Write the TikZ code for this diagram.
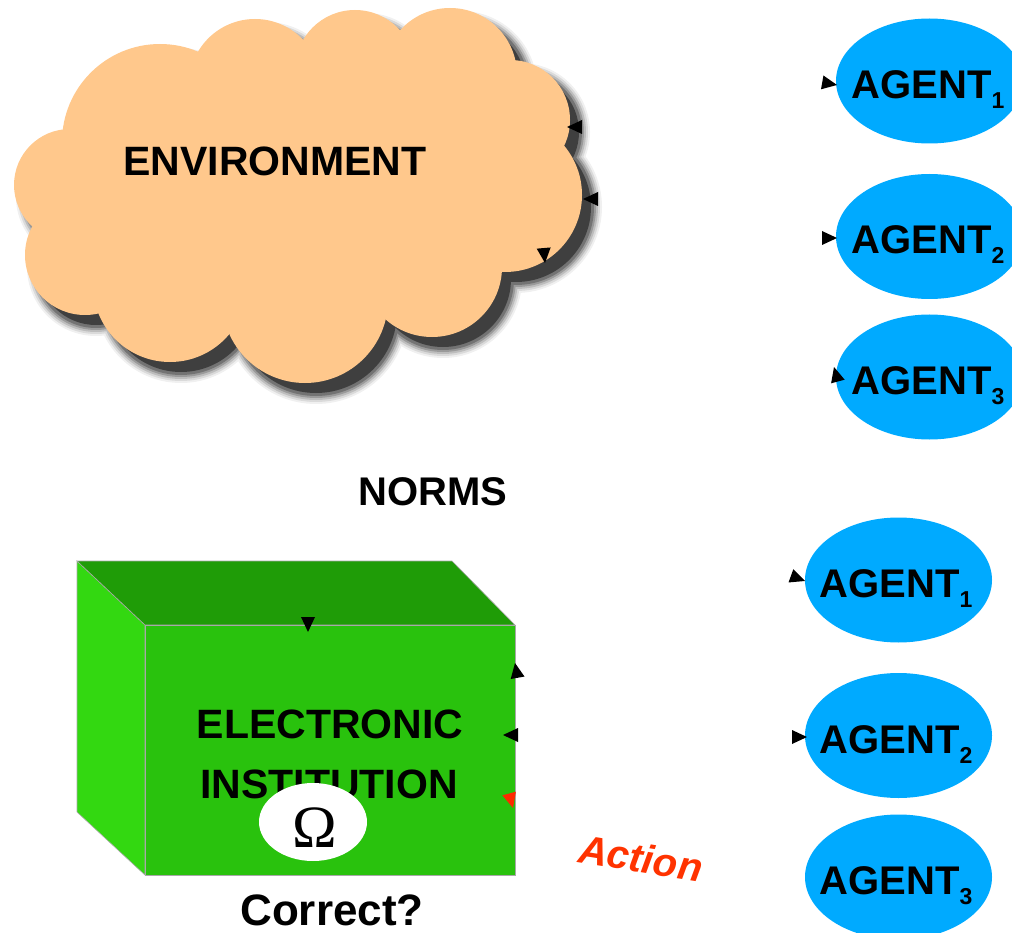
\documentclass[tikz,border=0pt]{standalone}
\usepackage{fontspec}
\setmainfont{Liberation Sans}
\newfontfamily\greekserif{Liberation Serif}
\usetikzlibrary{shapes.geometric}

\definecolor{cloudfill}{HTML}{FFC88C}
\definecolor{agentblue}{HTML}{00AAFF}
\definecolor{boxfront}{HTML}{29C20D}
\definecolor{boxtop}{HTML}{1F9C07}
\definecolor{boxside}{HTML}{33D811}
\definecolor{boxedge}{HTML}{A8A8A8}
\definecolor{actionred}{HTML}{FF3300}
\definecolor{headred}{HTML}{FF2A00}

% bumps of the cloud: centre x / centre y / radius
\newcommand\cloudbumps{70/185/56, 160/142/98, 255/85/66, 355/70/60, 450/75/67,
  510/120/60, 505/195/77, 432/267/70, 305/300/83, 170/285/77, 85/255/60}
\newcommand\cloudshape[1]{%
  \foreach \cx/\cy/\r in \cloudbumps {\fill (\cx,\cy) circle[radius=\r pt + #1 pt];}
  \fill (70,185) -- (160,142) -- (255,85) -- (355,70) -- (450,75) -- (510,120)
    -- (505,195) -- (432,267) -- (305,300) -- (170,285) -- (85,255) -- cycle;}

% a lone arrow tip: position, direction in degrees
\newcommand\tipat[3][black]{%
  \fill[#1, shift={(#2)}, rotate=#3] (0,0) -- (-15,7) -- (-15,-7) -- cycle;}

\newcommand\agentname[1]{AGENT\raisebox{-10pt}{\fontsize{23}{23}\selectfont #1}}

\tikzset{
  lbl/.style={font=\fontsize{40}{40}\selectfont\bfseries, inner sep=0pt, anchor=base},
  agent/.style={ellipse, fill=agentblue, minimum width=187pt, minimum height=125pt, inner sep=0pt},
  shadowlayer/.style={transparency group, opacity=#1, shift={(11,12)}},
}

\begin{document}
\begin{tikzpicture}[x=1pt, y=-1pt]
\useasboundingbox[fill=white] (0,0) rectangle (1012,933);

% ---- environment cloud with its soft shadow ----
\begin{scope}[shadowlayer=0.06] \cloudshape{9} \end{scope}
\begin{scope}[shadowlayer=0.09] \cloudshape{7} \end{scope}
\begin{scope}[shadowlayer=0.13] \cloudshape{5} \end{scope}
\begin{scope}[shadowlayer=0.18] \cloudshape{3} \end{scope}
\begin{scope}[shadowlayer=0.25] \cloudshape{1} \end{scope}
\begin{scope}[shadowlayer=0.45] \cloudshape{-2} \end{scope}
\begin{scope}[fill=cloudfill] \cloudshape{0} \end{scope}
\node[lbl, font=\fontsize{41}{41}\selectfont\bfseries] (env) at (275,176) {ENVIRONMENT};

\tipat{567,127}{180}
\tipat{583,199}{180}
\tipat{545,263}{-85}

% ---- agents, upper group ----
\node[agent] (ua1) at (929.5,81) {};
\node[agent] (ua2) at (929.5,236.5) {};
\node[agent] (ua3) at (929.5,377) {};
\node[lbl] (ua1t) at (928,98.5) {\agentname{1}};
\node[lbl] (ua2t) at (928,254) {\agentname{2}};
\node[lbl] (ua3t) at (928,394.5) {\agentname{3}};
\tipat{837,85}{-10}
\tipat{837,238}{0}
\tipat{834,367}{105}

\node[lbl] (norms) at (433,505) {NORMS};

% ---- electronic institution box ----
\fill[boxside, draw=boxedge, line width=0.6pt] (77,561) -- (145,625) -- (145,875) -- (77,812) -- cycle;
\fill[boxtop, draw=boxedge, line width=0.6pt] (77,561) -- (452,561) -- (515,625) -- (145,625) -- cycle;
\fill[boxfront, draw=boxedge, line width=0.6pt] (145,625) rectangle (515,875);
\node[lbl, font=\fontsize{41}{41}\selectfont\bfseries] (ei1) at (330,738) {ELECTRONIC};
\node[lbl, font=\fontsize{41}{41}\selectfont\bfseries] (ei2) at (329,798) {INSTITUTION};
\node[ellipse, fill=white, minimum width=108pt, minimum height=78pt, inner sep=0pt] (omega) at (313,822) {};
\node[inner sep=0pt, anchor=base, font=\fontsize{60}{60}\selectfont\greekserif] (omegat) at (314.5,847) {Ω};
\node[lbl, font=\fontsize{44}{44}\selectfont\bfseries] (correct) at (332,925) {Correct?};

\tipat{308,632}{-90}
\tipat{515,663}{100}
\tipat{503,735}{180}
\tipat[headred]{513,808}{-75}

\node[font=\fontsize{40}{40}\selectfont\bfseries\itshape, text=actionred, rotate=-9, inner sep=0pt] (action) at (641,858) {Action};

% ---- agents, lower group ----
\node[agent] (la1) at (898.5,580) {};
\node[agent] (la2) at (898.5,735.5) {};
\node[agent] (la3) at (898.5,877) {};
\node[lbl] (la1t) at (896,597) {\agentname{1}};
\node[lbl] (la2t) at (896,753) {\agentname{2}};
\node[lbl] (la3t) at (896,894.5) {\agentname{3}};
\tipat{805,581}{-20}
\tipat{807,737}{0}
\end{tikzpicture}
\end{document}
